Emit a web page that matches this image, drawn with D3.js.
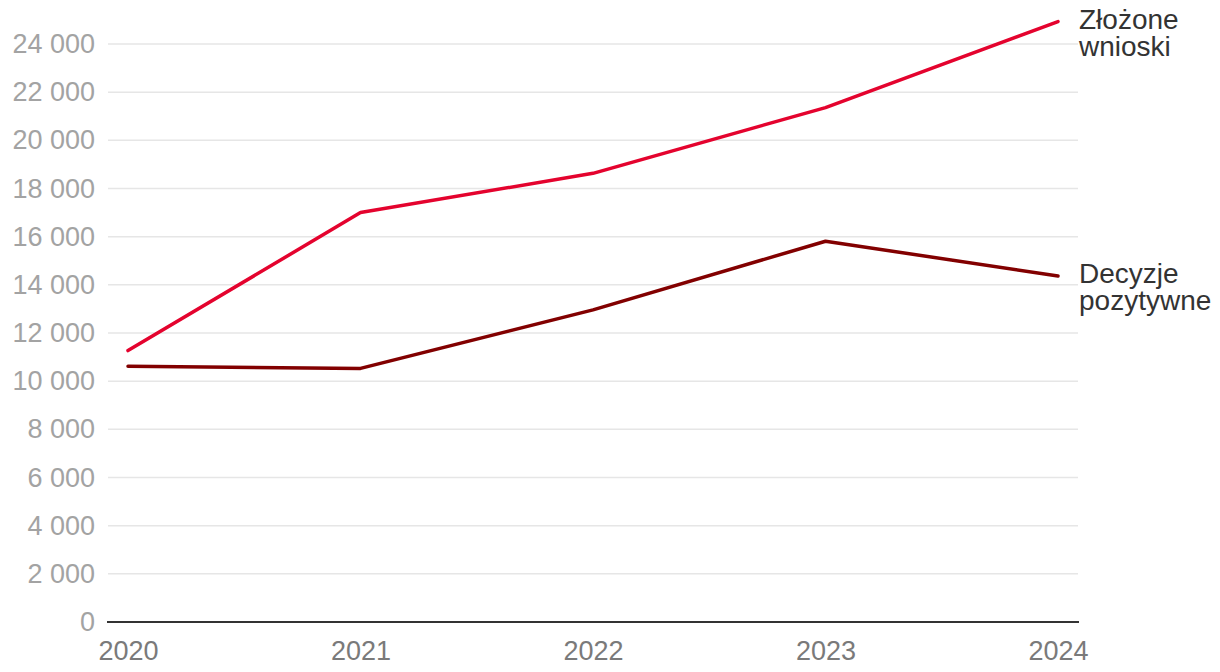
<!DOCTYPE html>
<html>
<head>
<meta charset="utf-8">
<script src="https://cdn.jsdelivr.net/npm/d3@7"></script>
<style>
  html, body { margin: 0; padding: 0; background: #fff; }
  svg { display: block; font-family: "Liberation Sans", Arial, Helvetica, sans-serif; }
</style>
</head>
<body>
<svg id="chart" width="1220" height="672"></svg>
<script>
const years = ["2020", "2021", "2022", "2023", "2024"];
const zlozone = [11270, 17000, 18630, 21360, 24930];
const decyzje = [10620, 10530, 12960, 15810, 14370];
const yTicks = [0, 2000, 4000, 6000, 8000, 10000, 12000, 14000, 16000, 18000, 20000, 22000, 24000];
const seriesNames = [["Złożone", "wnioski"], ["Decyzje", "pozytywne"]];
const seriesColors = ["#e4032e", "#820000"];

const svg = d3.select("#chart");
const x = d3.scalePoint().domain(years).range([128, 1058]);
const y = d3.scaleLinear().domain([0, 24000]).range([622, 44]);
const gridL = 108, gridR = 1078;

const fmt = v => d3.format(",")(v).replace(/,/g, " ");

// gridlines
svg.append("g").selectAll("line")
  .data(yTicks.filter(d => d !== 0))
  .join("line")
  .attr("x1", gridL).attr("x2", gridR)
  .attr("y1", d => y(d)).attr("y2", d => y(d))
  .attr("stroke", "#e6e6e6").attr("stroke-width", 1.5);

// y axis labels
const yAxis = d3.axisLeft(y).tickValues(yTicks).tickFormat(fmt).tickSize(0).tickPadding(0);
const gy = svg.append("g").attr("transform", `translate(${gridL - 13},0)`).call(yAxis);
gy.select(".domain").remove();
gy.selectAll("text").attr("fill", "#a3a3a3").style("font-size", "27px")
  .attr("font-family", "Liberation Sans, Arial, sans-serif");

// x axis
const xAxis = d3.axisBottom(x).tickSize(0).tickPadding(0);
const gx = svg.append("g").attr("transform", `translate(0,${y(0)})`).call(xAxis);
gx.select(".domain").remove();
gx.selectAll("text").attr("fill", "#7a7a7a").style("font-size", "27px")
  .attr("dy", null).attr("y", 38)
  .attr("font-family", "Liberation Sans, Arial, sans-serif");

// baseline
svg.append("line").attr("x1", gridL - 1).attr("x2", gridR + 1)
  .attr("y1", y(0)).attr("y2", y(0)).attr("stroke", "#333").attr("stroke-width", 2);

// lines
const line = d3.line().x((d, i) => x(years[i])).y(d => y(d));
[zlozone, decyzje].forEach((vals, k) => {
  svg.append("path").datum(vals)
    .attr("d", line)
    .attr("fill", "none")
    .attr("stroke", seriesColors[k])
    .attr("stroke-width", 3.5)
    .attr("stroke-linejoin", "round")
    .attr("stroke-linecap", "round");
  const last = vals[vals.length - 1];
  const t = svg.append("text")
    .attr("x", x(years[years.length - 1]) + 21)
    .attr("y", y(last) + 7)
    .attr("fill", "#333")
    .style("font-size", "28px");
  seriesNames[k].forEach((s, j) => {
    t.append("tspan").attr("x", x(years[years.length - 1]) + 21)
      .attr("dy", j === 0 ? 0 : 27).text(s);
  });
});
</script>
</body>
</html>
